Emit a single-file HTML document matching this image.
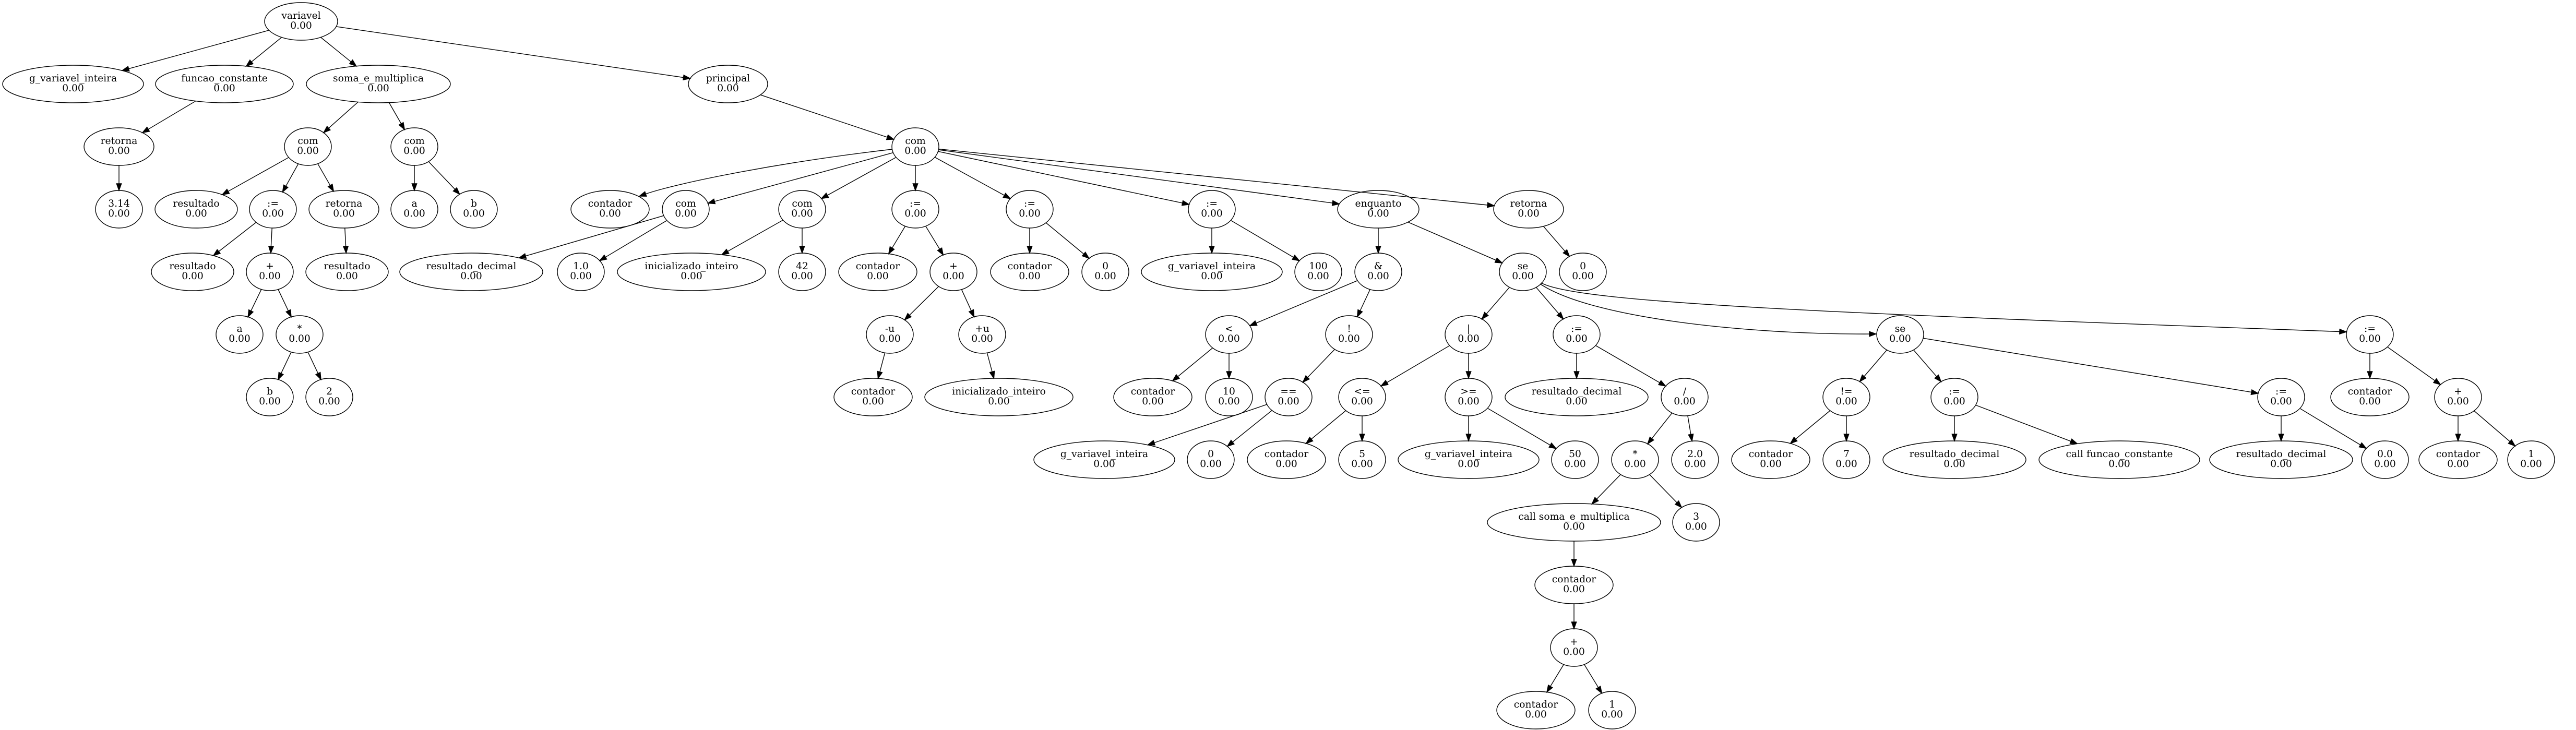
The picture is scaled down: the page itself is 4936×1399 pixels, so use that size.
<!DOCTYPE html>
<html><head><meta charset="utf-8">
<style>
html,body{margin:0;padding:0;background:#fff;}
svg{display:block;}
text{font-family:"DejaVu Serif","Liberation Serif",serif;font-size:18.67px;fill:#000;}
</style></head>
<body>
<svg id="g" width="4936" height="1399" viewBox="0 0 4936 1399" xmlns="http://www.w3.org/2000/svg"></svg>
<script>
var N=[
["variavel",577,0,-1],
["g_variavel_inteira",140,1,0],
["funcao_constante",430,1,0],
["soma_e_multiplica",725,1,0],
["principal",1395,1,0],
["retorna",228,2,2],
["3.14",228,3,5],
["com",590,2,3],
["com",794,2,3],
["resultado",376,3,7],
[":=",523,3,7],
["retorna",659,3,7],
["a",794,3,8],
["b",908,3,8],
["resultado",369,4,10],
["+",517,4,10],
["resultado",665,4,11],
["a",459,5,15],
["*",574,5,15],
["b",517,6,18],
["2",631,6,18],
["com",1754,2,4],
["contador",1169,3,21],
["com",1314,3,21],
["com",1537,3,21],
[":=",1754,3,21],
[":=",1973,3,21],
[":=",2322,3,21],
["enquanto",2641,3,21],
["retorna",2929,3,21],
["resultado_decimal",903,4,23],
["1.0",1113,4,23],
["inicializado_inteiro",1325,4,24],
["42",1537,4,24],
["contador",1682,4,25],
["+",1827,4,25],
["-u",1705,5,35],
["+u",1882,5,35],
["contador",1673,6,36],
["inicializado_inteiro",1914,6,37],
["contador",1973,4,26],
["0",2118,4,26],
["g_variavel_inteira",2322,4,27],
["100",2526,4,27],
["&",2641,4,28],
["se",2918,4,28],
["0",3033,4,29],
["<",2355,5,44],
["!",2585,5,44],
["contador",2209,6,47],
["10",2355,6,47],
["==",2469,6,48],
["g_variavel_inteira",2116,7,51],
["0",2320,7,51],
["|",2814,5,45],
[":=",3021,5,45],
["se",3641,5,45],
[":=",4541,5,45],
["<=",2610,6,54],
[">=",2814,6,54],
["contador",2465,7,58],
["5",2610,7,58],
["g_variavel_inteira",2814,7,59],
["50",3018,7,59],
["resultado_decimal",3021,6,55],
["/",3228,6,55],
["*",3133,7,65],
["2.0",3248,7,65],
["call soma_e_multiplica",3016,8,66],
["3",3250,8,66],
["contador",3016,9,68],
["+",3016,10,70],
["contador",2943,11,71],
["1",3089,11,71],
["!=",3538,6,56],
[":=",3745,6,56],
["contador",3393,7,74],
["7",3538,7,74],
["resultado_decimal",3745,7,75],
["call funcao_constante",4061,7,75],
[":=",4371,6,56],
["resultado_decimal",4371,7,80],
["0.0",4570,7,80],
["contador",4541,6,57],
["+",4710,6,57],
["contador",4710,7,84],
["1",4850,7,84]
];
var RX={"variavel":70,"g_variavel_inteira":135,"funcao_constante":132,"soma_e_multiplica":138,"principal":76,
"retorna":67,"resultado":79,"contador":75,"resultado_decimal":137,"inicializado_inteiro":142,
"enquanto":78,"call soma_e_multiplica":166,"call funcao_constante":154};
var RY=36;
// curved edges: child index -> [x0,y0, c1x,c1y, c2x,c2y, x1,y1]
var CURVE={
 56:[2951,544, 3050,610, 3350,641, 3595,640],
 57:[2953,542, 3020,580, 3500,600, 4496,636],
 22:[1710,286, 1500,310, 1300,350, 1225,376]
};
var s='';
function esc(t){return t.replace(/&/g,'&amp;').replace(/</g,'&lt;').replace(/>/g,'&gt;');}
function rxOf(n){return RX[n[0]]||45;}
function cy(n){return 41+120*n[2];}
function clip(cx,cyy,rx,ry,dx,dy){var t=1/Math.sqrt((dx*dx)/(rx*rx)+(dy*dy)/(ry*ry));return [cx+dx*t,cyy+dy*t];}
function arrow(bx0,by0,ux,uy){
  var al=13,aw=4.7;var bx=bx0-ux*al,by=by0-uy*al;
  return '<polygon points="'+bx0.toFixed(1)+','+by0.toFixed(1)+' '+(bx-uy*aw).toFixed(1)+','+(by+ux*aw).toFixed(1)+' '+(bx+uy*aw).toFixed(1)+','+(by-ux*aw).toFixed(1)+'" fill="#000" stroke="#000" stroke-width="1.4"/>';
}
N.forEach(function(n,i){
  if(n[3]<0)return;
  if(CURVE[i]){
    var c=CURVE[i];
    var dx=c[6]-c[4],dy=c[7]-c[5],L=Math.hypot(dx,dy),ux=dx/L,uy=dy/L;
    var ex=c[6]-ux*13,ey=c[7]-uy*13;
    s+='<path d="M'+c[0]+','+c[1]+' C'+c[2]+','+c[3]+' '+c[4]+','+c[5]+' '+ex.toFixed(1)+','+ey.toFixed(1)+'" fill="none" stroke="#000" stroke-width="1.4"/>';
    s+=arrow(c[6],c[7],ux,uy);
    return;
  }
  var p=N[n[3]];
  var px=p[1],py=cy(p),cx=n[1],cyy=cy(n);
  var dx=cx-px,dy=cyy-py;
  var a=clip(px,py,rxOf(p),RY,dx,dy);
  var b=clip(cx,cyy,rxOf(n),RY,-dx,-dy);
  var L=Math.hypot(b[0]-a[0],b[1]-a[1]);
  var ux=(b[0]-a[0])/L,uy=(b[1]-a[1])/L;
  var bx=b[0]-ux*13,by=b[1]-uy*13;
  s+='<line x1="'+a[0].toFixed(1)+'" y1="'+a[1].toFixed(1)+'" x2="'+bx.toFixed(1)+'" y2="'+by.toFixed(1)+'" stroke="#000" stroke-width="1.4"/>';
  s+=arrow(b[0],b[1],ux,uy);
});
N.forEach(function(n){
  var x=n[1],y=cy(n);
  s+='<ellipse cx="'+x+'" cy="'+y+'" rx="'+rxOf(n)+'" ry="'+RY+'" fill="none" stroke="#000" stroke-width="1.4"/>';
  s+='<text x="'+x+'" y="'+(y-5)+'" text-anchor="middle">'+esc(n[0])+'</text>';
  s+='<text x="'+x+'" y="'+(y+14)+'" text-anchor="middle">0.00</text>';
});
document.getElementById('g').innerHTML=s;
</script>
</body></html>
